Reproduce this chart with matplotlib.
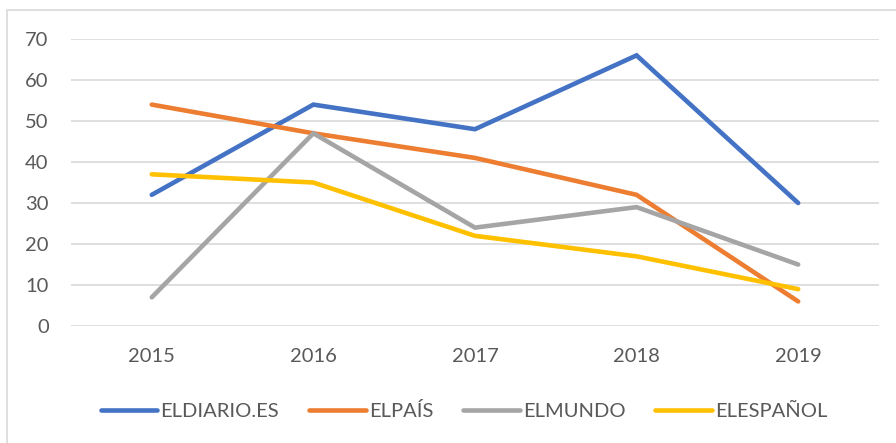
import matplotlib.pyplot as plt
from matplotlib.patches import Rectangle

years = ["2015", "2016", "2017", "2018", "2019"]
eldiario = [32, 54, 48, 66, 30]
elpais = [54, 47, 41, 32, 6]
elmundo = [7, 47, 24, 29, 15]
elespanol = [37, 35, 22, 17, 9]

series = [
    ("ELDIARIO.ES", eldiario, "#4472C4"),
    ("ELPAÍS", elpais, "#ED7D31"),
    ("ELMUNDO", elmundo, "#A5A5A5"),
    ("ELESPAÑOL", elespanol, "#FFC000"),
]

plt.rcParams["font.family"] = ["Lato", "DejaVu Sans"]

fig = plt.figure(figsize=(8.96, 4.43), dpi=100)
ax = fig.add_axes([0.0792, 0.264, 0.9018, 0.648])

x = list(range(len(years)))
for name, vals, col in series:
    ax.plot(x, vals, color=col, linewidth=3.3, label=name, solid_capstyle="round", solid_joinstyle="miter")

ax.set_xlim(-0.5, len(years) - 0.5)
ax.set_ylim(0, 70)
ax.set_yticks(range(0, 71, 10))
ax.set_xticks(x)
ax.set_xticklabels(years)
ax.yaxis.grid(True, color="#D9D9D9", linewidth=1.2)
ax.set_axisbelow(True)
for s in ax.spines.values():
    s.set_visible(False)
ax.tick_params(axis="both", length=0, labelsize=14.5, labelcolor="#595959")
ax.tick_params(axis="y", pad=16)
ax.tick_params(axis="x", pad=16)

leg = fig.legend(loc="center", bbox_to_anchor=(0.518, 0.073), ncol=4, frameon=False,
                 fontsize=14.5, handlelength=2.8, handletextpad=0.15, columnspacing=1.5)
for t in leg.get_texts():
    t.set_color("#595959")

fig.patches.append(Rectangle((7 / 896, -0.1), 1.2, 1 - 10 / 443 + 0.1, transform=fig.transFigure,
                             fill=False, edgecolor="#D9D9D9", linewidth=1.2))

plt.savefig("out.png", dpi=100)
